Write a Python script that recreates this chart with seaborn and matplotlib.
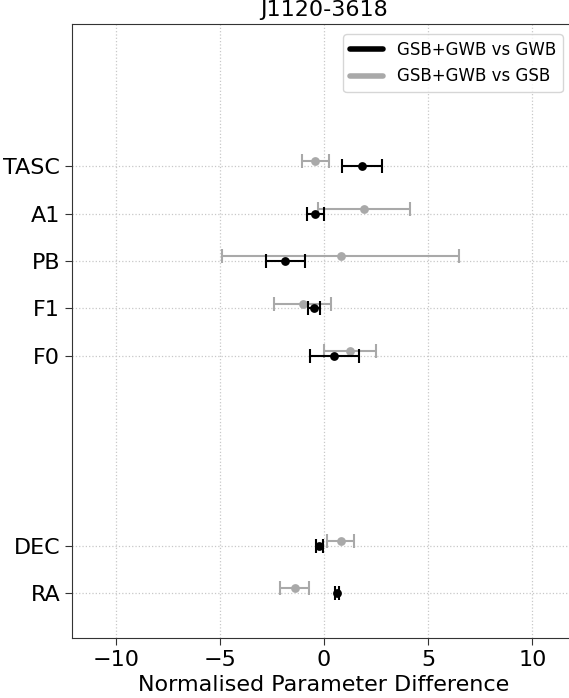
import matplotlib
matplotlib.use("Agg")
import matplotlib.pyplot as plt
from matplotlib.lines import Line2D
import numpy as np
import pandas as pd
import seaborn as sns

# parameter positions on the y axis (gap between DEC and F0)
params = ["RA", "DEC", "F0", "F1", "PB", "A1", "TASC"]
param_pos = [0, 1, 5, 6, 7, 8, 9]

# GSB+GWB vs GWB
gwb_val = [0.61, -0.22, 0.50, -0.48, -1.86, -0.42, 1.83]
gwb_err = [0.10, 0.15, 1.19, 0.30, 0.93, 0.42, 0.95]

# GSB+GWB vs GSB
gsb_val = [-1.41, 0.80, 1.25, -1.03, 0.80, 1.91, -0.42]
gsb_err = [0.70, 0.64, 1.25, 1.37, 5.70, 2.20, 0.64]

sns.set_style("white")
plt.rcParams["font.family"] = ["DejaVu Sans"]
plt.rcParams["text.color"] = "black"
plt.rcParams["axes.labelcolor"] = "black"
plt.rcParams["xtick.color"] = "black"
plt.rcParams["ytick.color"] = "black"

fig = plt.figure(figsize=(5.69, 6.98), dpi=100)
ax = fig.add_axes([72 / 569, 60 / 698, 504 / 569, 614 / 698])

df_gwb = pd.DataFrame({"x": gwb_val, "y": np.array(param_pos, dtype=float), "err": gwb_err})
df_gsb = pd.DataFrame({"x": gsb_val, "y": np.array(param_pos, dtype=float) + 0.1, "err": gsb_err})

ax.errorbar(df_gsb["x"], df_gsb["y"], xerr=df_gsb["err"], fmt="none",
            ecolor="darkgray", elinewidth=1.5, capsize=5, capthick=1.5, zorder=2)
sns.scatterplot(data=df_gsb, x="x", y="y", color="darkgray", s=40,
                edgecolor="darkgray", linewidth=0, ax=ax, zorder=3)
ax.errorbar(df_gwb["x"], df_gwb["y"], xerr=df_gwb["err"], fmt="none",
            ecolor="black", elinewidth=1.5, capsize=5, capthick=1.5, zorder=4)
sns.scatterplot(data=df_gwb, x="x", y="y", color="black", s=40,
                edgecolor="black", linewidth=0, ax=ax, zorder=5)

ax.set_xlim(-12.1, 12.1)
ax.set_ylim(-0.95, 12.0)
ax.set_yticks(param_pos)
ax.set_yticklabels(params)
ax.set_xticks([-10, -5, 0, 5, 10])
ax.tick_params(axis="both", labelsize=16, left=True, bottom=True, length=5,
               color="#333333", labelcolor="black")
ax.grid(True, ls=":", color="#c8c8c8", lw=0.9)
for s in ["left", "bottom", "top"]:
    ax.spines[s].set_color("#333333")
ax.spines["right"].set_visible(False)
ax.set_xlabel("Normalised Parameter Difference", fontsize=16, color="black")
ax.set_ylabel("")
ax.set_title("J1120-3618", fontsize=16, color="black")

handles = [Line2D([0], [0], color="black", lw=4),
           Line2D([0], [0], color="darkgray", lw=4)]
leg = fig.legend(handles, ["GSB+GWB vs GWB", "GSB+GWB vs GSB"], fontsize=12,
                 loc="upper right", bbox_to_anchor=(571 / 569, 672 / 698))
for t in leg.get_texts():
    t.set_color("black")

fig.savefig("out.png", dpi=100)
